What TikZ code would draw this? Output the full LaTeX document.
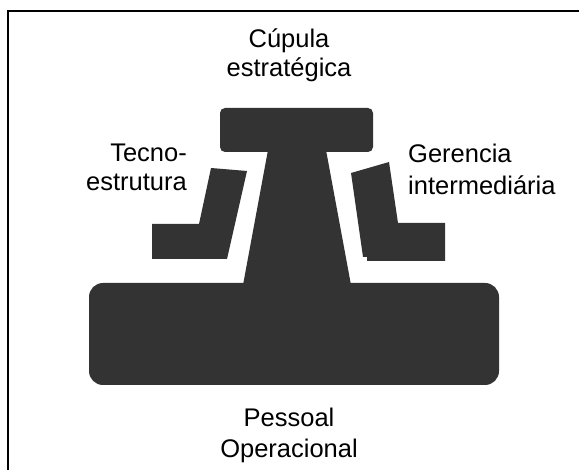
\documentclass[tikz,border=0pt]{standalone}
\usepackage{fontspec}
\setmainfont{Liberation Sans}
\definecolor{shape}{HTML}{333333}
\begin{document}
\begin{tikzpicture}[x=1pt,y=-1pt,
  part/.style={fill=shape,draw=none},
  lbl/.style={inner sep=0pt,font=\fontsize{25.5}{29.5}\selectfont,anchor=base}]
\useasboundingbox (0,0) rectangle (579,470);
\begin{scope}
\clip (0,0) rectangle (579,470);
\draw[line width=2pt] (8.3,11) rectangle (620,520);
\end{scope}
% shapes
\fill[part,rounded corners=5pt] (220,108) rectangle (373,152);
\fill[part] (268,150) -- (326,150) -- (351,285) -- (243,285) -- cycle;
\fill[part,rounded corners=14pt] (89,283) rectangle (499,385);
\fill[part] (211,168) -- (247,171) -- (227,259) -- (152,259) -- (152,224) -- (199,224) -- cycle;
\fill[part] (351,173) -- (389,162) -- (398,223) -- (445,223) -- (445,261) -- (367,261) -- (367,257) -- (363,257) -- cycle;
% labels
\node[lbl,align=center] (cup) at (289,77) {Cúpula\\estratégica};
\node[lbl,align=right,anchor=base east] (tec) at (187,191) {Tecno-\\estrutura};
\node[lbl,align=left,anchor=base west,font=\fontsize{25.5}{31.5}\selectfont] (ger) at (408,194.5) {Gerencia\\intermediária};
\node[lbl,align=center,font=\fontsize{25.5}{31}\selectfont] (pes) at (289,458) {Pessoal\\Operacional};
\end{tikzpicture}
\end{document}
